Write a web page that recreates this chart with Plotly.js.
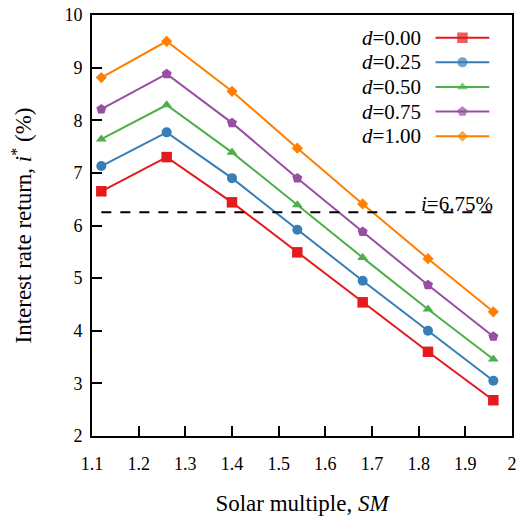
<!DOCTYPE html>
<html><head><meta charset="utf-8">
<script src="https://cdn.plot.ly/plotly-3.0.1.min.js"></script>
<style>html,body{margin:0;padding:0;background:#fff}#chart{width:529px;height:525px}</style>
</head><body><div id="chart"></div>
<script>
// ---- data ----
const SM = [1.12, 1.26, 1.40, 1.54, 1.68, 1.82, 1.96];
const seriesNames = ['<i>d</i>=0.00', '<i>d</i>=0.25', '<i>d</i>=0.50', '<i>d</i>=0.75', '<i>d</i>=1.00'];
const d000 = [6.65, 7.30, 6.44, 5.49, 4.54, 3.60, 2.68];
const d025 = [7.13, 7.77, 6.90, 5.92, 4.95, 4.00, 3.05];
const d050 = [7.64, 8.29, 7.39, 6.39, 5.39, 4.41, 3.46];
const d075 = [8.21, 8.88, 7.95, 6.90, 5.88, 4.87, 3.89];
const d100 = [8.81, 9.50, 8.55, 7.47, 6.41, 5.37, 4.36];
const iThreshold = 6.25;
const thresholdLabel = '<i>i</i>=6.75%';
const xTickVals = [1.1, 1.2, 1.3, 1.4, 1.5, 1.6, 1.7, 1.8, 1.9, 2.0];
const xTickText = ['1.1', '1.2', '1.3', '1.4', '1.5', '1.6', '1.7', '1.8', '1.9', '2'];
const yTickVals = [2, 3, 4, 5, 6, 7, 8, 9, 10];

// ---- styles ----
const colors = ['#e41a1c', '#377eb8', '#4daf4a', '#984ea3', '#ff7f00'];
const symbols = ['square', 'circle', 'triangle-up', 'pentagon', 'diamond'];
const sizes = [10.5, 10, 9.5, 10.5, 8.6];
const seriesData = [d000, d025, d050, d075, d100];
const FONT = '"Liberation Serif", "Times New Roman", serif';

const traces = [];
seriesData.forEach((ys, k) => {
  traces.push({
    x: SM, y: ys, type: 'scatter', mode: 'lines+markers', name: seriesNames[k],
    line: {color: colors[k], width: 2},
    marker: {symbol: symbols[k], size: sizes[k], color: colors[k], line: {width: 0}},
    showlegend: false, cliponaxis: false
  });
});
// threshold dashed line
traces.push({
  x: [SM[0], SM[SM.length - 1]], y: [iThreshold, iThreshold], type: 'scatter', mode: 'lines',
  line: {color: '#000', width: 2, dash: '10px,9px'}, showlegend: false, hoverinfo: 'skip'
});

// custom legend (text on the left, sample on the right), placed on an overlay axis of [0,1]
const legTextX = 0.789, legX0 = 0.818, legX1 = 0.946, legTop = 0.946, legStep = 0.0585;
const annotations = [];
seriesNames.forEach((nm, k) => {
  const yy = legTop - k * legStep;
  traces.push({
    x: [legX0, (legX0 + legX1) / 2, legX1], y: [yy, yy, yy], xaxis: 'x2', yaxis: 'y2',
    type: 'scatter', mode: 'lines+markers', showlegend: false, hoverinfo: 'skip',
    line: {color: colors[k], width: 2},
    marker: {symbol: symbols[k], size: [0, sizes[k], 0], color: colors[k], line: {width: 0}}
  });
  annotations.push({
    xref: 'paper', yref: 'paper', x: legTextX, y: yy, xanchor: 'right', yanchor: 'middle',
    text: nm, showarrow: false, font: {family: FONT, size: 21, color: '#000'}
  });
});
annotations.push({
  xref: 'x', yref: 'y', x: SM[SM.length - 1], y: iThreshold, xanchor: 'right', yanchor: 'middle',
  yshift: 8, xshift: 2, text: thresholdLabel, showarrow: false,
  font: {family: FONT, size: 21, color: '#000'}
});

const axisCommon = {
  showgrid: false, zeroline: false, showline: true, linecolor: '#000', linewidth: 2,
  mirror: true, ticks: 'inside', ticklen: 10, tickwidth: 2, tickcolor: '#000',
  tickfont: {family: FONT, size: 18, color: '#000'}
};

const layout = {
  width: 529, height: 525,
  margin: {l: 92, r: 17, t: 15, b: 89},
  paper_bgcolor: '#fff', plot_bgcolor: '#fff',
  showlegend: false,
  font: {family: FONT, color: '#000'},
  xaxis: Object.assign({}, axisCommon, {
    range: [1.1, 2.0], tickvals: xTickVals, ticktext: xTickText, ticklabelstandoff: 10,
    title: {text: 'Solar multiple, <i>SM</i>', font: {family: FONT, size: 23, color: '#000'}, standoff: 22}
  }),
  yaxis: Object.assign({}, axisCommon, {
    range: [2, 10], tickvals: yTickVals, ticklabelstandoff: 4,
    title: {text: 'Interest rate return, <i>i</i><sup>*</sup> (%)', font: {family: FONT, size: 23, color: '#000'}, standoff: 26}
  }),
  xaxis2: {overlaying: 'x', range: [0, 1], visible: false, fixedrange: true},
  yaxis2: {overlaying: 'y', range: [0, 1], visible: false, fixedrange: true},
  annotations: annotations
};

Plotly.newPlot('chart', traces, layout, {displayModeBar: false, staticPlot: true});
</script>
</body></html>
